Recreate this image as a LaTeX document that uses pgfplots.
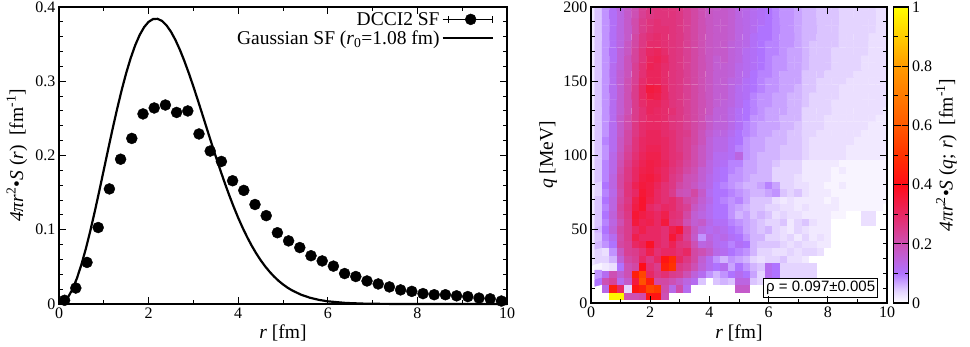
\documentclass[border=0pt]{standalone}
\usepackage{fontspec}
\setmainfont{Liberation Serif}
\newfontfamily\boxfont{Liberation Sans}
\usepackage{pgfplots}
\pgfplotsset{compat=1.18}
\pgfplotsset{
  colormap={sfmap}{rgb255(0cm)=(255,255,255); rgb255(0.4cm)=(228,212,255); rgb255(1cm)=(175,115,255); rgb255(2cm)=(205,80,180); rgb255(3cm)=(232,40,100); rgb255(4cm)=(255,12,24); rgb255(5cm)=(255,50,0); rgb255(6cm)=(255,90,0); rgb255(8cm)=(255,155,0); rgb255(10cm)=(255,255,0)},
  gstyle/.style={scale only axis, axis line style={line width=1.2pt}, every tick/.style={black, line width=1pt},
    major tick length=7pt, minor tick length=4pt, tick align=inside, xtick pos=both, ytick pos=both,
    /pgf/number format/assume math mode=true,
    tick label style={font=\fontsize{16}{19}\selectfont},
    label style={font=\fontsize{19.5}{23}\selectfont}}
}
\begin{document}
\begin{tikzpicture}
\useasboundingbox (0,0) rectangle (970pt,346pt);
% ---------------- left panel ----------------
\begin{axis}[gstyle, at={(59pt,42pt)}, anchor=south west, width=448pt, height=297pt,
  xmin=0, xmax=10, ymin=0, ymax=0.4,
  xtick={0,2,4,6,8,10}, minor x tick num=1,
  ytick={0,0.1,0.2,0.3,0.4}, minor y tick num=4,
  yticklabel style={/pgf/number format/fixed},
  clip=false,
  xlabel={\textit{r} [fm]},
  ylabel={\textit{4πr}\textsuperscript{2}•\textit{S} (\textit{r})~~[fm\textsuperscript{-1}]},
  xlabel style={at={(axis description cs:0.5,-0.098)}, anchor=center},
  ylabel style={at={(axis description cs:-0.094,0.5)}, anchor=center},
  legend style={draw=none, fill=none, at={(1,1)}, anchor=north east, xshift=-13pt, yshift=-3pt,
    inner sep=0pt, font=\fontsize{19.5}{23}\selectfont, row sep=0pt},
  legend cell align=right, legend plot pos=right]
\addplot[only marks, mark=*, mark size=5.5pt, black,
  legend image code/.code={\path (0pt,0pt) -- (6pt,0pt); \draw[black, line width=1pt] (6pt,0pt)--(50pt,0pt) (6pt,-3.5pt)--(6pt,3.5pt) (50pt,-3.5pt)--(50pt,3.5pt); \fill[black] (28pt,0pt) circle (5.5pt);}]
coordinates {(0.125,0.005)(0.375,0.0215)(0.625,0.056)(0.875,0.103)(1.125,0.155)(1.375,0.195)(1.625,0.223)(1.875,0.256)(2.125,0.264)(2.375,0.268)(2.625,0.258)(2.875,0.260)(3.125,0.229)(3.375,0.206)(3.625,0.192)(3.875,0.166)(4.125,0.153)(4.375,0.134)(4.625,0.119)(4.875,0.096)(5.125,0.085)(5.375,0.076)(5.625,0.065)(5.875,0.058)(6.125,0.051)(6.375,0.041)(6.625,0.037)(6.875,0.031)(7.125,0.027)(7.375,0.023)(7.625,0.019)(7.875,0.017)(8.125,0.014)(8.375,0.0125)(8.625,0.0125)(8.875,0.011)(9.125,0.010)(9.375,0.008)(9.625,0.007)(9.875,0.004)};
\addlegendentry{DCCI2 SF}
\addplot[black, line width=2.2pt,
  legend image code/.code={\path (0pt,0pt) -- (6pt,0pt); \draw[black, line width=2.2pt] (6pt,0pt)--(50pt,0pt);}]
coordinates {(0,0)(0.1,0.00223)(0.2,0.00888)(0.3,0.01977)(0.4,0.03462)(0.5,0.05306)(0.6,0.07463)(0.7,0.09878)(0.8,0.12494)(0.9,0.15247)(1.0,0.18072)(1.1,0.20905)(1.2,0.23682)(1.3,0.26343)(1.4,0.28834)(1.5,0.31106)(1.6,0.33116)(1.7,0.34832)(1.8,0.36228)(1.9,0.37288)(2.0,0.38003)(2.1,0.38375)(2.2,0.38408)(2.3,0.38120)(2.4,0.37529)(2.5,0.36663)(2.6,0.35549)(2.7,0.34216)(2.8,0.32702)(2.9,0.31046)(3.0,0.29282)(3.1,0.27434)(3.2,0.25541)(3.3,0.23629)(3.4,0.21723)(3.5,0.19854)(3.6,0.18045)(3.7,0.16302)(3.8,0.14641)(3.9,0.13075)(4.0,0.11608)(4.1,0.10254)(4.2,0.09010)(4.3,0.07871)(4.4,0.06836)(4.5,0.05910)(4.6,0.05083)(4.7,0.04348)(4.8,0.03699)(4.9,0.03129)(5.0,0.02636)(5.1,0.02208)(5.2,0.01841)(5.4,0.01260)(5.6,0.00846)(5.8,0.00557)(6.0,0.00360)(6.4,0.00141)(6.8,0.00052)(7.2,0.00017)(8,0.00001)(10,0)};
\addlegendentry{Gaussian SF (\textit{r}\textsubscript{0}=1.08 fm)}
\end{axis}
% ---------------- right panel ----------------
\begin{axis}[gstyle, at={(591pt,43pt)}, anchor=south west, width=296pt, height=296pt,
  xmin=0, xmax=10, ymin=0, ymax=200,
  xtick={0,2,4,6,8,10}, minor x tick num=1,
  ytick={0,50,100,150,200}, minor y tick num=4,
  axis on top,
  xlabel={\textit{r} [fm]}, ylabel={\textit{q} [MeV]},
  xlabel style={at={(axis description cs:0.5,-0.101)}, anchor=center},
  ylabel style={at={(axis description cs:-0.145,0.5)}, anchor=center},
  colormap name=sfmap, point meta min=0, point meta max=100,
  colorbar,
  colorbar style={scale only axis, width=15pt, height=296pt, at={(parent axis.north east)}, anchor=north west, xshift=-2pt,
    axis line style={line width=1.2pt}, every tick/.style={black, line width=1pt},
    major tick length=7pt, minor tick length=4pt, tick align=inside,
    ytick={0,20,40,60,80,100}, yticklabels={0,0.2,0.4,0.6,0.8,1}, minor y tick num=1,
    ytick pos=both, yticklabel pos=right,
    tick label style={font=\fontsize{16}{19}\selectfont},
    ylabel={\textit{4πr}\textsuperscript{2}•\textit{S} (\textit{q}; \textit{r})~~[fm\textsuperscript{-1}]},
    ylabel style={font=\fontsize{19.5}{23}\selectfont, at={(axis description cs:3.53,0.5)}, anchor=center}}]
% values in units of 0.01 fm^-1; rows q = 0,5,...,200 MeV; columns r = 0,0.25,...,10 fm
\addplot[matrix plot*, mesh/cols=41, shader=faceted, faceted color=mapped color, line width=0.4pt, point meta=\thisrowno{0}]
table[row sep=\\, header=false, x expr={mod(\coordindex,41)*0.25}, y expr={floor(\coordindex/41)*5}] {
0\\0\\0\\0\\0\\0\\0\\0\\0\\0\\0\\0\\0\\0\\0\\0\\0\\0\\0\\0\\0\\0\\0\\0\\0\\0\\0\\0\\0\\0\\0\\0\\0\\0\\0\\0\\0\\0\\0\\0\\0\\
0\\0\\0\\98\\98\\20\\20\\21\\42\\42\\20\\0\\0\\0\\0\\0\\0\\0\\0\\0\\0\\0\\0\\0\\0\\0\\0\\0\\0\\0\\0\\0\\0\\0\\0\\0\\0\\0\\0\\0\\0\\
0\\0\\13\\45\\30\\4\\42\\45\\55\\52\\21\\13\\21\\12\\0\\0\\0\\0\\0\\0\\17\\17\\0\\0\\0\\0\\0\\0\\0\\0\\0\\0\\0\\0\\0\\0\\0\\0\\0\\0\\0\\
0\\10\\20\\23\\12\\17\\35\\58\\45\\22\\22\\20\\17\\14\\12\\5\\0\\5\\6\\5\\14\\14\\5\\4\\0\\0\\0\\0\\0\\0\\0\\0\\0\\0\\0\\0\\0\\0\\0\\0\\0\\
0\\8\\12\\20\\16\\20\\45\\55\\30\\26\\28\\25\\24\\20\\15\\12\\8\\6\\8\\10\\12\\10\\7\\4\\12\\10\\4\\4\\4\\4\\4\\0\\0\\0\\0\\0\\0\\0\\0\\0\\0\\
0\\1\\2\\3\\10\\20\\22\\40\\28\\25\\45\\50\\26\\24\\20\\15\\12\\10\\12\\7\\10\\8\\6\\5\\12\\10\\4\\4\\4\\4\\4\\0\\0\\0\\0\\0\\0\\0\\0\\0\\0\\
2\\4\\4\\6\\15\\22\\24\\30\\26\\30\\42\\48\\30\\26\\22\\16\\12\\8\\6\\8\\7\\6\\4\\3\\4\\4\\5\\3\\3\\2\\0\\0\\0\\0\\0\\0\\0\\0\\0\\0\\0\\
2\\4\\3\\8\\18\\24\\25\\28\\33\\28\\30\\30\\28\\30\\22\\20\\17\\13\\12\\10\\9\\8\\6\\4\\4\\3\\3\\4\\3\\4\\4\\3\\0\\0\\0\\0\\0\\0\\0\\0\\0\\
2\\6\\8\\10\\22\\24\\30\\32\\38\\30\\28\\32\\27\\26\\20\\14\\15\\12\\11\\9\\11\\10\\6\\5\\5\\5\\4\\3\\4\\3\\3\\2\\2\\0\\0\\0\\0\\0\\0\\0\\0\\
2\\5\\9\\12\\21\\25\\33\\30\\30\\30\\28\\36\\30\\24\\17\\8\\14\\12\\13\\11\\10\\8\\6\\6\\4\\4\\3\\4\\2\\4\\2\\3\\2\\0\\0\\0\\0\\0\\0\\0\\0\\
2\\6\\10\\15\\22\\25\\30\\33\\30\\30\\28\\33\\36\\25\\18\\14\\12\\13\\12\\10\\9\\7\\6\\5\\6\\4\\3\\2\\4\\3\\2\\2\\2\\0\\0\\0\\0\\0\\0\\0\\0\\
2\\5\\9\\14\\20\\25\\35\\32\\33\\30\\35\\27\\26\\20\\16\\17\\13\\11\\11\\9\\8\\7\\6\\5\\4\\4\\5\\2\\4\\5\\3\\2\\2\\0\\0\\0\\0\\3\\3\\0\\0\\
2\\5\\10\\15\\22\\26\\36\\34\\32\\30\\33\\28\\27\\22\\16\\14\\12\\10\\10\\8\\6\\7\\5\\6\\5\\3\\4\\3\\3\\2\\2\\2\\2\\1\\1\\0\\0\\3\\3\\0\\0\\
2\\5\\9\\14\\23\\27\\34\\37\\30\\28\\30\\29\\26\\24\\18\\15\\12\\10\\10\\8\\7\\6\\5\\5\\4\\4\\3\\3\\2\\3\\2\\2\\2\\2\\1\\1\\1\\1\\1\\1\\0\\
2\\5\\10\\14\\22\\26\\33\\37\\33\\30\\28\\29\\26\\22\\20\\16\\13\\10\\9\\8\\9\\7\\5\\5\\5\\3\\2\\3\\2\\2\\2\\2\\1\\2\\1\\1\\1\\1\\1\\1\\1\\
2\\4\\9\\13\\21\\27\\30\\36\\34\\30\\28\\25\\20\\19\\22\\17\\12\\10\\10\\9\\8\\7\\6\\6\\7\\8\\5\\4\\5\\3\\2\\2\\2\\1\\1\\1\\1\\1\\1\\1\\1\\
2\\4\\10\\14\\22\\27\\32\\35\\34\\31\\28\\26\\22\\20\\18\\15\\13\\10\\9\\8\\7\\6\\6\\7\\9\\7\\4\\4\\3\\3\\2\\2\\1\\1\\2\\1\\1\\1\\1\\1\\1\\
2\\5\\9\\14\\22\\26\\30\\34\\35\\33\\30\\26\\24\\20\\19\\16\\13\\11\\10\\8\\8\\7\\6\\6\\6\\4\\4\\4\\3\\2\\2\\2\\2\\1\\1\\1\\1\\1\\1\\1\\1\\
2\\5\\9\\13\\21\\26\\30\\33\\34\\32\\30\\27\\25\\22\\20\\16\\14\\11\\10\\9\\8\\7\\7\\6\\6\\4\\4\\4\\4\\2\\2\\2\\2\\1\\2\\1\\1\\1\\1\\1\\1\\
2\\5\\9\\13\\20\\25\\29\\32\\34\\33\\31\\28\\26\\23\\21\\18\\14\\12\\11\\9\\9\\7\\7\\6\\6\\5\\4\\4\\4\\2\\2\\2\\2\\2\\1\\1\\1\\1\\1\\1\\1\\
2\\5\\8\\13\\19\\24\\28\\31\\33\\33\\30\\28\\27\\24\\21\\18\\15\\12\\12\\11\\14\\8\\7\\6\\6\\6\\5\\5\\5\\4\\3\\3\\3\\3\\3\\2\\2\\2\\2\\2\\2\\
2\\5\\8\\12\\18\\23\\27\\30\\32\\32\\30\\28\\26\\24\\21\\18\\15\\13\\13\\11\\9\\8\\7\\7\\6\\6\\5\\5\\5\\4\\3\\3\\3\\3\\3\\2\\2\\2\\2\\2\\2\\
2\\5\\9\\12\\18\\22\\27\\30\\31\\31\\30\\28\\26\\24\\22\\19\\15\\13\\13\\11\\10\\8\\7\\7\\6\\6\\6\\5\\5\\4\\3\\3\\3\\3\\3\\3\\2\\2\\2\\2\\2\\
2\\5\\8\\12\\17\\22\\26\\29\\31\\31\\29\\28\\26\\25\\22\\19\\16\\14\\14\\12\\10\\9\\8\\7\\7\\6\\6\\5\\5\\4\\4\\3\\3\\3\\3\\3\\3\\2\\2\\2\\2\\
2\\5\\8\\12\\17\\21\\26\\29\\30\\30\\29\\27\\26\\24\\22\\20\\17\\15\\15\\13\\11\\9\\8\\7\\7\\7\\6\\6\\5\\4\\4\\4\\3\\3\\3\\3\\3\\3\\2\\2\\2\\
2\\5\\8\\12\\17\\21\\25\\28\\30\\30\\29\\27\\26\\24\\22\\20\\17\\15\\15\\13\\11\\10\\8\\8\\7\\7\\6\\6\\6\\4\\4\\4\\3\\3\\3\\3\\3\\3\\3\\2\\2\\
2\\5\\8\\12\\16\\20\\25\\28\\31\\30\\29\\28\\26\\24\\22\\20\\18\\15\\15\\13\\11\\10\\9\\8\\7\\7\\7\\6\\6\\4\\4\\4\\4\\3\\3\\3\\3\\3\\3\\3\\2\\
2\\5\\8\\12\\16\\20\\25\\29\\31\\31\\29\\27\\26\\24\\22\\20\\18\\16\\15\\14\\12\\10\\9\\8\\8\\7\\7\\6\\6\\5\\4\\4\\4\\3\\3\\3\\3\\3\\3\\3\\3\\
2\\5\\8\\12\\16\\20\\25\\30\\34\\33\\30\\27\\26\\24\\22\\20\\18\\16\\16\\14\\12\\11\\9\\8\\8\\7\\7\\6\\6\\5\\4\\4\\4\\4\\3\\3\\3\\3\\3\\3\\3\\
2\\5\\8\\12\\16\\20\\25\\30\\35\\34\\30\\27\\26\\24\\22\\20\\18\\16\\16\\14\\12\\11\\10\\9\\8\\8\\7\\7\\6\\5\\5\\4\\4\\4\\3\\3\\3\\3\\3\\3\\3\\
2\\5\\8\\12\\16\\20\\24\\29\\31\\31\\29\\27\\26\\24\\22\\20\\18\\16\\16\\14\\13\\11\\10\\9\\8\\8\\7\\7\\7\\5\\5\\4\\4\\4\\4\\3\\3\\3\\3\\3\\3\\
2\\5\\8\\12\\16\\19\\24\\28\\31\\31\\29\\27\\26\\24\\22\\20\\18\\16\\16\\15\\13\\12\\10\\9\\9\\8\\7\\7\\7\\5\\5\\5\\4\\4\\4\\4\\3\\3\\3\\3\\3\\
2\\5\\8\\12\\15\\19\\24\\28\\32\\31\\29\\27\\26\\24\\22\\20\\18\\16\\16\\15\\13\\12\\11\\10\\9\\8\\8\\7\\7\\6\\5\\5\\5\\4\\4\\4\\4\\3\\3\\3\\3\\
2\\5\\8\\11\\15\\19\\23\\27\\31\\32\\30\\27\\26\\24\\22\\20\\18\\16\\17\\15\\14\\12\\11\\10\\9\\8\\8\\7\\7\\6\\5\\5\\5\\4\\4\\4\\4\\3\\3\\3\\3\\
2\\5\\8\\11\\15\\18\\23\\27\\30\\31\\29\\27\\26\\24\\22\\20\\18\\17\\17\\15\\14\\12\\11\\10\\9\\9\\8\\7\\7\\6\\5\\5\\5\\4\\4\\4\\4\\4\\3\\3\\3\\
2\\5\\8\\11\\14\\18\\22\\26\\29\\29\\28\\27\\26\\24\\22\\20\\18\\17\\17\\15\\14\\13\\11\\10\\9\\9\\8\\8\\7\\6\\5\\5\\5\\5\\4\\4\\4\\4\\3\\3\\3\\
2\\5\\8\\11\\14\\17\\22\\26\\28\\29\\28\\27\\26\\24\\22\\20\\18\\17\\17\\16\\14\\13\\11\\10\\10\\9\\8\\8\\7\\6\\6\\5\\5\\5\\4\\4\\4\\4\\3\\3\\3\\
2\\5\\8\\11\\14\\17\\21\\25\\27\\28\\28\\27\\26\\24\\22\\20\\18\\17\\17\\16\\14\\13\\12\\10\\10\\9\\8\\8\\7\\6\\6\\5\\5\\5\\4\\4\\4\\4\\4\\3\\3\\
2\\5\\8\\11\\14\\17\\21\\25\\27\\28\\27\\27\\26\\24\\22\\20\\18\\17\\17\\16\\14\\13\\12\\11\\10\\9\\8\\8\\7\\6\\6\\5\\5\\5\\4\\4\\4\\4\\4\\3\\3\\
2\\5\\8\\11\\14\\17\\20\\24\\26\\27\\27\\27\\26\\24\\22\\20\\18\\17\\17\\16\\14\\13\\12\\11\\10\\9\\8\\8\\7\\6\\6\\5\\5\\5\\4\\4\\4\\4\\4\\3\\3\\
2\\5\\8\\11\\14\\17\\20\\24\\26\\27\\27\\27\\26\\24\\22\\20\\18\\17\\17\\16\\14\\13\\12\\11\\10\\9\\8\\8\\7\\6\\6\\5\\5\\5\\4\\4\\4\\4\\4\\3\\3\\
};
\node[draw, line width=1pt, fill=white, inner sep=2.5pt, anchor=south east, font=\fontsize{15}{18}\boxfont] at (axis cs:9.7,3.4) {ρ = 0.097±0.005};
\end{axis}
\end{tikzpicture}
\end{document}
